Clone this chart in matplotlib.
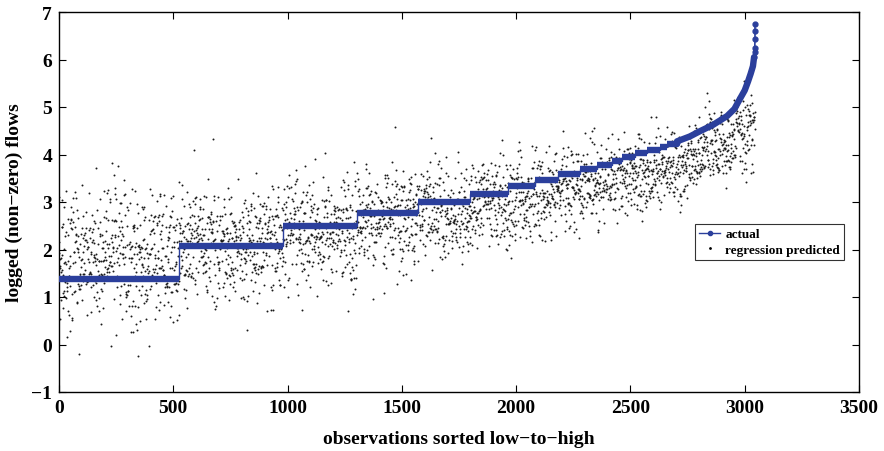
import numpy as np
import matplotlib
matplotlib.use('Agg')
import matplotlib.pyplot as plt
from matplotlib.lines import Line2D

plt.rcParams['font.family'] = ['Liberation Serif', 'DejaVu Serif']
plt.rcParams['font.weight'] = 'bold'

## actual (sorted) logged flows: flat steps, then a smooth tail
step_start = [0, 525, 980, 1304, 1571, 1798, 1964, 2083, 2183, 2279, 2354, 2419, 2463, 2520, 2573, 2629, 2660]
step_end = [525, 980, 1304, 1571, 1798, 1964, 2083, 2183, 2279, 2354, 2419, 2463, 2520, 2573, 2629, 2660, 2704]
step_level = [1.386, 2.079, 2.485, 2.773, 2.996, 3.178, 3.332, 3.466, 3.584, 3.689, 3.784, 3.871, 3.951, 4.025, 4.094, 4.159, 4.220]

tail_x = [2704, 2760, 2804, 2860, 2923, 2955, 2979, 3000, 3014, 3026, 3036, 3041]
tail_y = [4.277, 4.38, 4.49, 4.62, 4.81, 4.96, 5.17, 5.35, 5.53, 5.70, 5.86, 6.05]
top_x = [3043, 3044, 3045, 3045, 3045]
top_y = [6.16, 6.25, 6.43, 6.60, 6.75]

## regression predicted cloud: centre and spread per block of observations
band_start = [0, 525, 980, 1304, 1571, 1798, 2000, 2200, 2400, 2600, 2800, 2950]
band_end = [525, 980, 1304, 1571, 1798, 2000, 2200, 2400, 2600, 2800, 2950, 3045]
band_mid = [1.85, 2.10, 2.45, 2.65, 2.85, 3.00, 3.15, 3.35, 3.55, 3.80, 4.15, 4.55]
band_sd = [0.70, 0.60, 0.57, 0.53, 0.50, 0.48, 0.47, 0.45, 0.42, 0.40, 0.40, 0.45]

rng = np.random.RandomState(3)
px, py = [], []
for a, b, m, s in zip(band_start, band_end, band_mid, band_sd):
    xs = np.arange(a, b)
    px.extend(xs)
    py.extend(m + s * rng.randn(len(xs)))
px = np.array(px)
py = np.array(py)

blue = '#2b3f9c'

fig = plt.figure(figsize=(8.84, 4.52), dpi=100)
ax = fig.add_axes([59/884., 1-393/452., 800/884., 380/452.])

ax.scatter(px, py, s=2.0, c='#1a1a1a', linewidths=0, zorder=2)

# thin risers between steps
rx = [step_start[0]]
ry = [step_level[0]]
for s0, s1, lv in zip(step_start, step_end, step_level):
    rx += [s0, s1]
    ry += [lv, lv]
ax.plot(rx, ry, color=blue, lw=1, zorder=3)
ax.hlines(step_level, step_start, step_end, color=blue, lw=4.6, zorder=3)
ax.plot([step_end[-1]] + tail_x, [step_level[-1]] + tail_y, color=blue, lw=4.6,
        solid_capstyle='round', zorder=3)
ax.plot([tail_x[-1]] + top_x, [tail_y[-1]] + top_y, color=blue, lw=1.2,
        marker='o', ms=3.5, zorder=3)

ax.set_xlim(0, 3500)
ax.set_ylim(-1, 7)
ax.set_xticks(np.arange(0, 3501, 500))
ax.set_yticks(np.arange(-1, 8, 1))
ax.tick_params(direction='in', length=5, width=0.8, top=True, right=True,
               labelsize=14, pad=5)
for sp in ax.spines.values():
    sp.set_linewidth(1)
ax.set_xlabel('observations sorted low\u2212to\u2212high', fontsize=14, fontweight='bold', labelpad=10)
ax.set_ylabel('logged (non\u2212zero) flows', fontsize=14, fontweight='bold', labelpad=6)

handles = [Line2D([], [], color=blue, lw=1, marker='.', ms=6),
           Line2D([], [], color='k', lw=0, marker='.', ms=2)]
leg = ax.legend(handles, ['actual', 'regression predicted'], loc='upper left',
                bbox_to_anchor=(0.795, 0.442), fontsize=9.5, frameon=True, fancybox=False,
                edgecolor='k', borderpad=0.3, handlelength=1.6, handletextpad=0.4,
                labelspacing=0.25, borderaxespad=0)
leg.get_frame().set_linewidth(0.8)

fig.savefig('out.png', dpi=100)
